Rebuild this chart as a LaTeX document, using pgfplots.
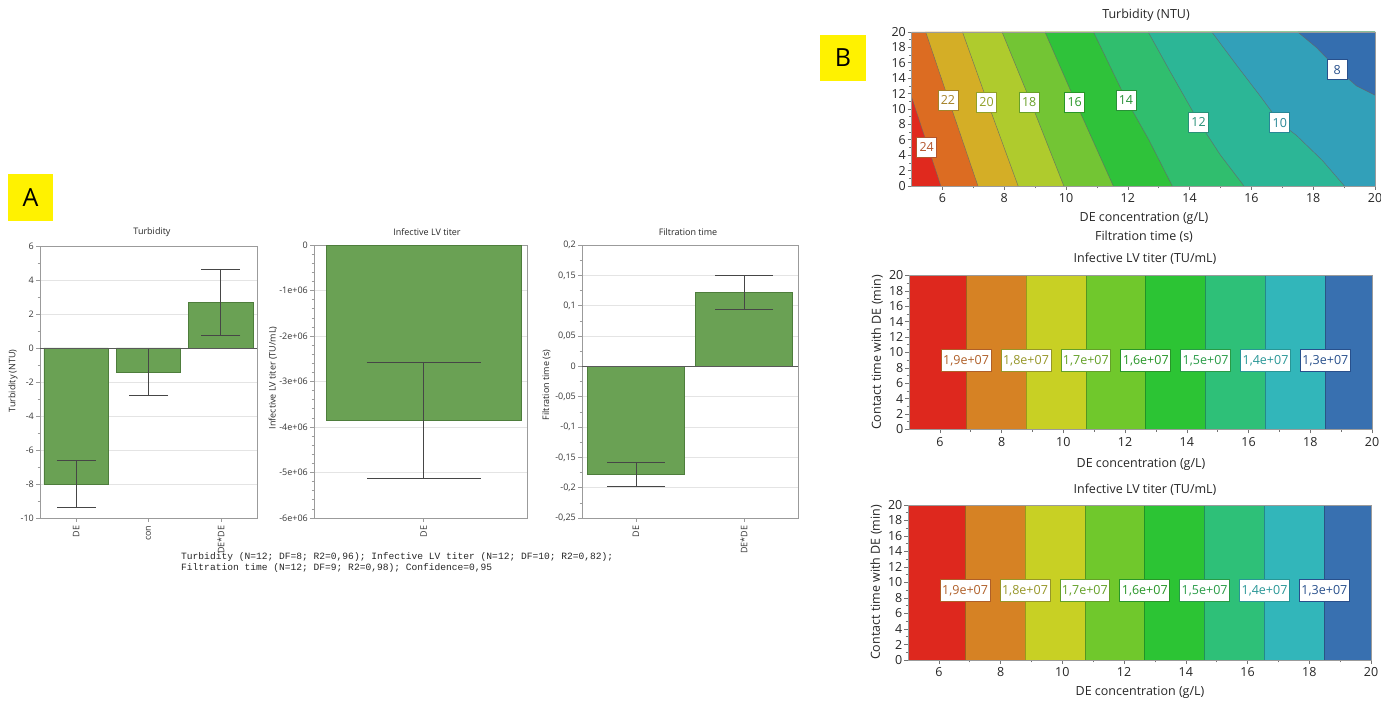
\documentclass[border=0pt]{standalone}
\usepackage{fontspec}
\setmainfont{Open Sans}
\setmonofont{Liberation Mono}
\usepackage{pgfplots}
\pgfplotsset{compat=1.18}

\definecolor{barg}{RGB}{106,161,84}
\definecolor{bard}{RGB}{78,125,60}
\definecolor{errc}{RGB}{70,70,70}
\definecolor{axg}{RGB}{155,155,155}
\definecolor{gridg}{RGB}{228,228,228}
\definecolor{hl}{RGB}{255,242,0}
\definecolor{tlab}{RGB}{55,55,55}
% turbidity contour regions
\definecolor{T0}{RGB}{224,41,30}
\definecolor{T1}{RGB}{220,108,34}
\definecolor{T2}{RGB}{212,174,38}
\definecolor{T3}{RGB}{175,203,45}
\definecolor{T4}{RGB}{115,197,52}
\definecolor{T5}{RGB}{47,194,58}
\definecolor{T6}{RGB}{48,190,110}
\definecolor{T7}{RGB}{44,182,150}
\definecolor{T8}{RGB}{50,160,185}
\definecolor{T9}{RGB}{52,110,175}
\definecolor{t24}{RGB}{180,85,45}
\definecolor{t22}{RGB}{165,130,40}
\definecolor{t20}{RGB}{145,160,40}
\definecolor{t18}{RGB}{105,160,40}
\definecolor{t16}{RGB}{40,150,40}
\definecolor{t14}{RGB}{40,145,55}
\definecolor{t12}{RGB}{40,145,120}
\definecolor{t10}{RGB}{40,135,150}
\definecolor{t8}{RGB}{40,80,140}
% titer bands
\definecolor{B1}{RGB}{222,40,30}
\definecolor{B2}{RGB}{214,130,36}
\definecolor{B3}{RGB}{200,208,36}
\definecolor{B4}{RGB}{112,200,44}
\definecolor{B5}{RGB}{44,196,52}
\definecolor{B6}{RGB}{46,192,120}
\definecolor{B7}{RGB}{50,182,186}
\definecolor{B8}{RGB}{56,112,176}
\definecolor{L19}{RGB}{175,95,40}
\definecolor{L18}{RGB}{150,150,40}
\definecolor{L17}{RGB}{100,160,40}
\definecolor{L16}{RGB}{40,150,40}
\definecolor{L15}{RGB}{40,155,70}
\definecolor{L14}{RGB}{40,150,150}
\definecolor{L13}{RGB}{40,80,140}

\tikzset{
  lblt/.style={fill=white, draw=#1, text=#1, line width=0.8pt, inner sep=1.5pt,
    minimum width=20pt, minimum height=20pt, font=\fontsize{12.5}{13}\selectfont},
  lblb/.style={fill=white, draw=#1, text=#1, line width=0.8pt, inner sep=2pt,
    minimum height=22pt, font=\fontsize{12.5}{13}\selectfont},
  cline/.style={draw=black!60, line width=0.5pt, opacity=0.8},
}
\pgfplotsset{
  barax/.style={
    scale only axis, anchor=south west,
    axis line style={draw=axg},
    tick style={draw=axg, line width=0.6pt},
    tick align=outside, tick pos=left,
    major tick length=4pt, minor tick length=2.5pt,
    ymajorgrids, grid style={draw=gridg, line width=0.8pt},
    ticklabel style={font=\fontsize{9}{10}\selectfont, text=tlab},
    xticklabel style={rotate=90, anchor=east},
    yticklabel style={inner sep=2pt},
  },
  conax/.style={
    scale only axis, anchor=south west,
    xmin=5, xmax=20, ymin=0, ymax=20,
    xtick={6,8,...,20}, ytick={0,2,...,20},
    minor x tick num=1, minor y tick num=1,
    tick align=outside, tick pos=left,
    major tick length=4pt, minor tick length=2.5pt,
    axis line style={draw=axg},
    tick style={draw=black!55, line width=0.6pt},
    ticklabel style={font=\fontsize{12.5}{13}\selectfont, text=black!85},
    yticklabel style={inner sep=1.5pt},
    /pgf/number format/assume math mode=true,
    axis on top,
  },
}

\begin{document}
\begin{tikzpicture}
\path[use as bounding box] (0,0) rectangle (1381pt,701pt);

% ---------------- Panel A ----------------
\node[fill=hl, minimum width=45pt, minimum height=47pt, inner sep=0pt,
  font=\fontsize{25}{25}\selectfont] at (30.5pt,503.5pt) {A};

% Turbidity bars
\begin{axis}[barax, at={(40pt,183pt)}, width=217pt, height=272pt,
  xmin=-0.5, xmax=2.5, ymin=-10, ymax=6,
  xtick={0,1,2}, xticklabels={DE,con,DE*DE},
  ytick={-10,-8,-6,-4,-2,0,2,4,6},
  yticklabels={-10,-8,-6,-4,-2,0,2,4,6},
  minor y tick num=1]
\addplot[ybar, bar width=0.89, fill=barg, draw=bard,
  error bars/.cd, y dir=both, y explicit, error mark=|,
  error bar style={draw=errc, line width=0.7pt},
  error mark options={draw=errc, line width=0.7pt, mark size=19.5pt}]
  table[x=x, y=y, y error=e] {
x y e
0 -8.0 1.38
1 -1.4 1.40
2 2.7 1.95
};
\addplot[draw=black!65, line width=0.8pt] coordinates {(-0.5,0) (2.5,0)};
\end{axis}
\node[font=\fontsize{9}{10}\selectfont, text=black!85] at (152pt,469pt) {Turbidity};
\node[rotate=90, font=\fontsize{9}{10}\selectfont, text=black!85] at (13pt,320pt) {Turbidity (NTU)};

% Infective LV titer bars
\begin{axis}[barax, at={(314pt,183pt)}, width=213pt, height=273pt,
  xmin=-0.5, xmax=0.5, ymin=-6000000, ymax=0,
  xtick={0.015}, xticklabels={DE}, scaled y ticks=false,
  ytick={-6000000,-5000000,-4000000,-3000000,-2000000,-1000000,0},
  yticklabels={-6e+06,-5e+06,-4e+06,-3e+06,-2e+06,-1e+06,0},
  minor y tick num=4]
\addplot[ybar, bar width=0.915, fill=barg, draw=bard,
  error bars/.cd, y dir=both, y explicit, error mark=|,
  error bar style={draw=errc, line width=0.7pt},
  error mark options={draw=errc, line width=0.7pt, mark size=57pt}]
  table[x=x, y=y, y error=e] {
x y e
0.015 -3860000 1270000
};
\end{axis}
\node[font=\fontsize{9}{10}\selectfont, text=black!85] at (427pt,469pt) {Infective LV titer};
\node[rotate=90, font=\fontsize{9}{10}\selectfont, text=black!85] at (273pt,323pt) {Infective LV titer (TU/mL)};

% Filtration time bars
\begin{axis}[barax, at={(582pt,183pt)}, width=216pt, height=273pt,
  xmin=-0.5, xmax=1.5, ymin=-0.25, ymax=0.2,
  xtick={0,1}, xticklabels={DE,DE*DE},
  ytick={-0.25,-0.2,-0.15,-0.1,-0.05,0,0.05,0.1,0.15,0.2},
  yticklabels={{-0,25},{-0,2},{-0,15},{-0,1},{-0,05},0,{0,05},{0,1},{0,15},{0,2}},
  minor y tick num=1]
\addplot[ybar, bar width=0.9, fill=barg, draw=bard,
  error bars/.cd, y dir=both, y explicit, error mark=|,
  error bar style={draw=errc, line width=0.7pt},
  error mark options={draw=errc, line width=0.7pt, mark size=29pt}]
  table[x=x, y=y, y error=e] {
x y e
0 -0.178 0.0195
1 0.122 0.028
};
\addplot[draw=black!65, line width=0.8pt] coordinates {(-0.5,0) (1.5,0)};
\end{axis}
\node[font=\fontsize{9}{10}\selectfont, text=black!85] at (688pt,469pt) {Filtration time};
\node[rotate=90, font=\fontsize{9}{10}\selectfont, text=black!85] at (546.5pt,316pt) {Filtration time (s)};

% caption
\node[anchor=base west, inner sep=0pt, font=\ttfamily\fontsize{9.6}{10}\selectfont, text=black!85]
  at (181pt,141pt) {Turbidity (N=12; DF=8; R2=0,96); Infective LV titer (N=12; DF=10; R2=0,82);};
\node[anchor=base west, inner sep=0pt, font=\ttfamily\fontsize{9.6}{10}\selectfont, text=black!85]
  at (181pt,130.5pt) {Filtration time (N=12; DF=9; R2=0,98); Confidence=0,95};

% ---------------- Panel B ----------------
\node[fill=hl, minimum width=46pt, minimum height=46pt, inner sep=0pt,
  font=\fontsize{25}{25}\selectfont] at (843pt,643pt) {B};

% Turbidity contour
\begin{axis}[conax, at={(911.5pt,515pt)}, width=463.5pt, height=154pt]
\addplot[fill=T0, draw=none] coordinates {(5,0) (20,0) (20,20) (5,20)} -- cycle;
\addplot[fill=T1, draw=none] coordinates {(5,11.6) (5.95,0) (20,0) (20,20) (5,20)} -- cycle;
\addplot[fill=T2, draw=none] coordinates {(5.46,20) (6.2,11.2) (7.15,0) (20,0) (20,20)} -- cycle;
\addplot[fill=T3, draw=none] coordinates {(6.65,20) (7.45,11) (8.45,0) (20,0) (20,20)} -- cycle;
\addplot[fill=T4, draw=none] coordinates {(7.93,20) (8.85,11) (9.93,0) (20,0) (20,20)} -- cycle;
\addplot[fill=T5, draw=none] coordinates {(9.32,20) (10.3,11) (11.53,0) (20,0) (20,20)} -- cycle;
\addplot[fill=T6, draw=none] coordinates {(10.89,20) (11.95,11.2) (12.68,6) (13.44,0) (20,0) (20,20)} -- cycle;
\addplot[fill=T7, draw=none] coordinates {(12.66,20) (13.35,15) (14.3,8.3) (15.0,4) (15.76,0) (20,0) (20,20)} -- cycle;
\addplot[fill=T8, draw=none] coordinates {(14.72,20) (15.5,15.8) (16.3,11.6) (16.92,8.2) (17.45,6.6) (18.3,3.3) (19.01,0) (20,0) (20,20)} -- cycle;
\addplot[fill=T9, draw=none] coordinates {(17.5,20) (18.1,18) (18.78,15.2) (19.4,13) (20,11.8) (20,20)} -- cycle;
\addplot[cline] coordinates {(5,11.6) (5.95,0)};
\addplot[cline] coordinates {(5.46,20) (6.2,11.2) (7.15,0)};
\addplot[cline] coordinates {(6.65,20) (7.45,11) (8.45,0)};
\addplot[cline] coordinates {(7.93,20) (8.85,11) (9.93,0)};
\addplot[cline] coordinates {(9.32,20) (10.3,11) (11.53,0)};
\addplot[cline] coordinates {(10.89,20) (11.95,11.2) (12.68,6) (13.44,0)};
\addplot[cline] coordinates {(12.66,20) (13.35,15) (14.3,8.3) (15.0,4) (15.76,0)};
\addplot[cline] coordinates {(14.72,20) (15.5,15.8) (16.3,11.6) (16.92,8.2) (17.45,6.6) (18.3,3.3) (19.01,0)};
\addplot[cline] coordinates {(17.5,20) (18.1,18) (18.78,15.2) (19.4,13) (20,11.8)};
\node[lblt=t24] at (axis cs:5.49,5.05) {24};
\node[lblt=t22] at (axis cs:6.18,11.15) {22};
\node[lblt=t20] at (axis cs:7.43,10.9) {20};
\node[lblt=t18] at (axis cs:8.81,10.85) {18};
\node[lblt=t16] at (axis cs:10.28,10.9) {16};
\node[lblt=t14] at (axis cs:11.94,11.15) {14};
\node[lblt=t12] at (axis cs:14.29,8.3) {12};
\node[lblt=t10] at (axis cs:16.92,8.2) {10};
\node[lblt=t8] at (axis cs:18.78,15.1) {8};
\end{axis}
\node[font=\fontsize{12.5}{13}\selectfont, text=black!85] at (1146pt,686pt) {Turbidity (NTU)};
\node[font=\fontsize{12.5}{13}\selectfont, text=black!85] at (1144pt,483pt) {DE concentration (g/L)};
\node[font=\fontsize{12.5}{13}\selectfont, text=black!85] at (1144pt,464pt) {Filtration time (s)};

% Infective LV titer (middle)
\begin{axis}[conax, at={(909pt,271.5pt)}, width=463pt, height=154pt]
\addplot[fill=B1, draw=B1!75!black, line width=0.6pt] coordinates {(5,0) (6.85,0) (6.85,20) (5,20)} -- cycle;
\addplot[fill=B2, draw=B2!75!black, line width=0.6pt] coordinates {(6.85,0) (8.79,0) (8.79,20) (6.85,20)} -- cycle;
\addplot[fill=B3, draw=B3!75!black, line width=0.6pt] coordinates {(8.79,0) (10.73,0) (10.73,20) (8.79,20)} -- cycle;
\addplot[fill=B4, draw=B4!75!black, line width=0.6pt] coordinates {(10.73,0) (12.67,0) (12.67,20) (10.73,20)} -- cycle;
\addplot[fill=B5, draw=B5!75!black, line width=0.6pt] coordinates {(12.67,0) (14.61,0) (14.61,20) (12.67,20)} -- cycle;
\addplot[fill=B6, draw=B6!75!black, line width=0.6pt] coordinates {(14.61,0) (16.55,0) (16.55,20) (14.61,20)} -- cycle;
\addplot[fill=B7, draw=B7!75!black, line width=0.6pt] coordinates {(16.55,0) (18.49,0) (18.49,20) (16.55,20)} -- cycle;
\addplot[fill=B8, draw=B8!75!black, line width=0.6pt] coordinates {(18.49,0) (20,0) (20,20) (18.49,20)} -- cycle;
\node[lblb=L19] at (axis cs:6.85,8.95) {1,9e+07};
\node[lblb=L18] at (axis cs:8.79,8.95) {1,8e+07};
\node[lblb=L17] at (axis cs:10.73,8.95) {1,7e+07};
\node[lblb=L16] at (axis cs:12.67,8.95) {1,6e+07};
\node[lblb=L15] at (axis cs:14.61,8.95) {1,5e+07};
\node[lblb=L14] at (axis cs:16.55,8.95) {1,4e+07};
\node[lblb=L13] at (axis cs:18.49,8.95) {1,3e+07};
\end{axis}
\node[font=\fontsize{12.5}{13}\selectfont, text=black!85] at (1145pt,442pt) {Infective LV titer (TU/mL)};
\node[font=\fontsize{12.5}{13}\selectfont, text=black!85] at (1141pt,237pt) {DE concentration (g/L)};
\node[rotate=90, font=\fontsize{12.5}{13}\selectfont, text=black!85] at (877pt,348.5pt) {Contact time with DE (min)};

% Infective LV titer (bottom)
\begin{axis}[conax, at={(908pt,41pt)}, width=463pt, height=155pt]
\addplot[fill=B1, draw=B1!75!black, line width=0.6pt] coordinates {(5,0) (6.85,0) (6.85,20) (5,20)} -- cycle;
\addplot[fill=B2, draw=B2!75!black, line width=0.6pt] coordinates {(6.85,0) (8.79,0) (8.79,20) (6.85,20)} -- cycle;
\addplot[fill=B3, draw=B3!75!black, line width=0.6pt] coordinates {(8.79,0) (10.73,0) (10.73,20) (8.79,20)} -- cycle;
\addplot[fill=B4, draw=B4!75!black, line width=0.6pt] coordinates {(10.73,0) (12.67,0) (12.67,20) (10.73,20)} -- cycle;
\addplot[fill=B5, draw=B5!75!black, line width=0.6pt] coordinates {(12.67,0) (14.61,0) (14.61,20) (12.67,20)} -- cycle;
\addplot[fill=B6, draw=B6!75!black, line width=0.6pt] coordinates {(14.61,0) (16.55,0) (16.55,20) (14.61,20)} -- cycle;
\addplot[fill=B7, draw=B7!75!black, line width=0.6pt] coordinates {(16.55,0) (18.49,0) (18.49,20) (16.55,20)} -- cycle;
\addplot[fill=B8, draw=B8!75!black, line width=0.6pt] coordinates {(18.49,0) (20,0) (20,20) (18.49,20)} -- cycle;
\node[lblb=L19] at (axis cs:6.85,8.95) {1,9e+07};
\node[lblb=L18] at (axis cs:8.79,8.95) {1,8e+07};
\node[lblb=L17] at (axis cs:10.73,8.95) {1,7e+07};
\node[lblb=L16] at (axis cs:12.67,8.95) {1,6e+07};
\node[lblb=L15] at (axis cs:14.61,8.95) {1,5e+07};
\node[lblb=L14] at (axis cs:16.55,8.95) {1,4e+07};
\node[lblb=L13] at (axis cs:18.49,8.95) {1,3e+07};
\end{axis}
\node[font=\fontsize{12.5}{13}\selectfont, text=black!85] at (1145pt,211pt) {Infective LV titer (TU/mL)};
\node[font=\fontsize{12.5}{13}\selectfont, text=black!85] at (1140pt,9pt) {DE concentration (g/L)};
\node[rotate=90, font=\fontsize{12.5}{13}\selectfont, text=black!85] at (876pt,118.5pt) {Contact time with DE (min)};
\end{tikzpicture}
\end{document}
